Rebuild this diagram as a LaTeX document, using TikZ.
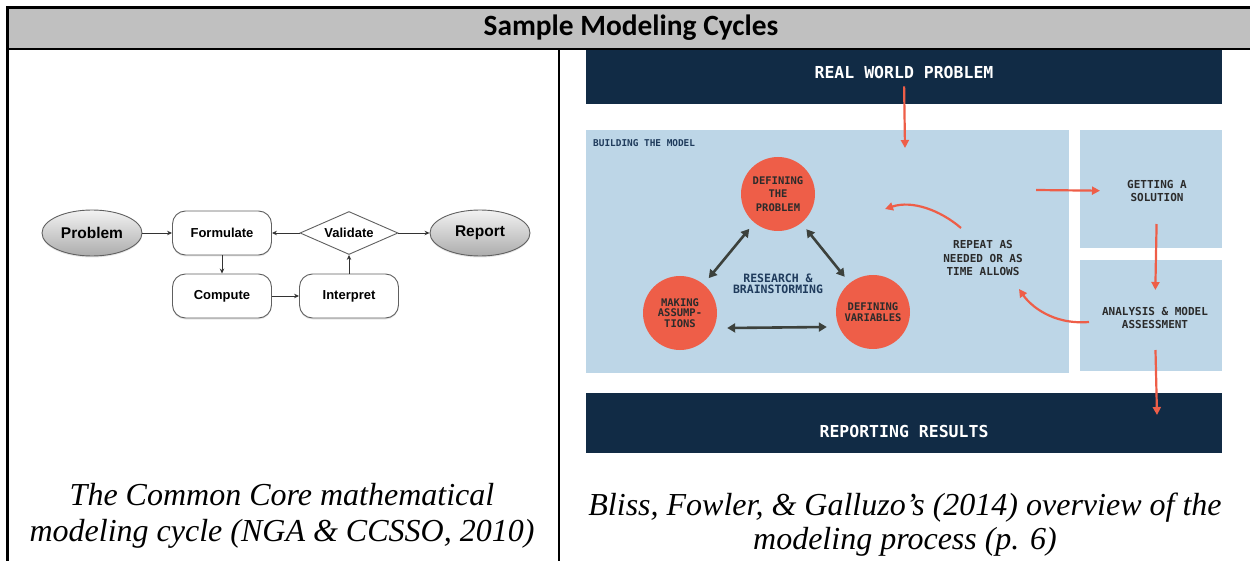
\documentclass[tikz,border=0pt]{standalone}
\usepackage{fontspec}
\setmainfont{Liberation Serif}
\newfontfamily\headfont{Carlito}
\newfontfamily\flowfont{Liberation Sans}
\newfontfamily\tagfont{DejaVu Sans Mono}
\usetikzlibrary{arrows.meta, shapes.geometric, shadows}

\definecolor{headgray}{HTML}{C0C0C0}
\definecolor{navy}{HTML}{112B45}
\definecolor{skyblue}{HTML}{BDD6E7}
\definecolor{coral}{HTML}{EE5E48}
\definecolor{ink}{HTML}{3C413C}
\definecolor{inkdark}{HTML}{2B2B2B}
\definecolor{navytext}{HTML}{1F3B5C}

\begin{document}
\begin{tikzpicture}[
  x=1pt, y=-1pt,
  every node/.style={inner sep=0pt},
  term/.style={ellipse, draw=gray!75!black, line width=0.9pt, top color=gray!10,
               bottom color=gray!65, minimum width=100, minimum height=46,
               drop shadow={opacity=0.2, shadow xshift=0pt, shadow yshift=-1.5pt},
               font=\flowfont\bfseries\fontsize{15.5}{17}\selectfont},
  stage/.style={rectangle, rounded corners=13pt, draw=gray!75!black, line width=0.9pt,
                fill=white, minimum width=99, minimum height=44,
                drop shadow={opacity=0.2, shadow xshift=0pt, shadow yshift=-1.5pt},
                font=\flowfont\bfseries\fontsize{13}{15}\selectfont},
  check/.style={diamond, aspect=2.3, draw=gray!75!black, line width=0.9pt, fill=white,
                minimum width=98, minimum height=43,
                font=\flowfont\bfseries\fontsize{13}{15}\selectfont},
  flow/.style={-{Stealth[length=5pt, width=4.5pt]}, draw=gray!40!black, line width=0.7pt},
  banner/.style={rectangle, fill=navy, anchor=north west},
  panel/.style={rectangle, fill=skyblue, anchor=north west},
  bannertext/.style={text=white, font=\tagfont\bfseries\fontsize{16.5}{18}\selectfont},
  topic/.style={circle, fill=coral, minimum size=74},
  topictext/.style={align=center, text=inkdark, font=\tagfont\bfseries\fontsize{10.5}{13.3}\selectfont},
  note/.style={align=center, text=inkdark, font=\tagfont\bfseries\fontsize{11}{13.3}\selectfont},
  twoway/.style={{Triangle[length=8pt, width=9pt]}-{Triangle[length=8pt, width=9pt]},
                 draw=ink, line width=2.6pt},
  redarrow/.style={-{Triangle[length=8pt, width=8pt]}, draw=coral, line width=2.2pt},
  caption/.style={align=center, font=\itshape\fontsize{32}{35.5}\selectfont},
]
\useasboundingbox (0,0) rectangle (1250,561);
\clip (0,0) rectangle (1250,561);

% table frame and header row
\fill[headgray] (7.5,7.5) rectangle (1250,49);
\draw[line width=2.5pt] (7.5,561) -- (7.5,7.5) -- (1250,7.5);
\draw[line width=2pt] (7.5,49) -- (1250,49);
\draw[line width=2pt] (559,49) -- (559,561);
\node[font=\headfont\bfseries\fontsize{29.4}{32}\selectfont] (title) at (631,28) {Sample Modeling Cycles};

% left cell: common core cycle
\node[term]  (problem)   at (92,233)  {Problem};
\node[stage] (formulate) at (222,233) {Formulate};
\node[check] (validate)  at (349,233) {Validate};
\node[term]  (report)    at (480,233) {Report};
\node[stage] (compute)   at (222,296) {Compute};
\node[stage] (interpret) at (349,296) {Interpret};

\draw[flow] (problem)   -- (formulate);
\draw[flow] (validate)  -- (formulate);
\draw[flow] (validate)  -- (report);
\draw[flow] (formulate) -- (compute);
\draw[flow] (compute)   -- (interpret);
\draw[flow] (interpret) -- (validate);

\node[caption] (leftcap) at (282,516) {The Common Core mathematical\\modeling cycle (NGA \& CCSSO, 2010)};

% right cell: building the model
\node[banner, minimum width=636, minimum height=54] (realbox) at (586,50) {};
\node[panel, minimum width=483, minimum height=243] (buildbox) at (586,130) {};
\node[panel, minimum width=142, minimum height=118] (solvebox) at (1080,130) {};
\node[panel, minimum width=142, minimum height=111] (assessbox) at (1080,260) {};
\node[banner, minimum width=636, minimum height=60] (reportbox) at (586,393) {};

\node[bannertext] (real) at (904,72) {REAL WORLD PROBLEM};
\node[bannertext] (results) at (904,431) {REPORTING RESULTS};
\node[anchor=west, text=navytext, font=\tagfont\bfseries\fontsize{9.4}{11}\selectfont] (buildlabel) at (593,143) {BUILDING THE MODEL};

\node[topic] (defprob) at (778,194) {};
\node[topic] (makeas)  at (680,313) {};
\node[topic] (defvar)  at (873,312) {};
\node[topictext] at (defprob) {DEFINING\\THE\\PROBLEM};
\node[topictext, font=\tagfont\bfseries\fontsize{10.5}{10.8}\selectfont] at (makeas) {MAKING\\ASSUMP-\\TIONS};
\node[topictext, font=\tagfont\bfseries\fontsize{10.5}{11}\selectfont] at (defvar) {DEFINING\\VARIABLES};
\node[align=center, text=navytext, font=\tagfont\bfseries\fontsize{11.5}{11}\selectfont] (research) at (778,284) {RESEARCH \&\\BRAINSTORMING};

\draw[twoway, shorten <=8, shorten >=8] (defprob) -- (makeas);
\draw[twoway, shorten <=8, shorten >=8] (defprob) -- (defvar);
\draw[twoway] ([shift={(10,15)}]makeas.east) -- ([shift={(-9,15)}]defvar.west);

\node[note] (repeat)   at (983,258)  {REPEAT AS\\NEEDED OR AS\\TIME ALLOWS};
\node[note] (getting)  at (1157,191) {GETTING A\\SOLUTION};
\node[note] (analysis) at (1155,318) {ANALYSIS \& MODEL\\ASSESSMENT};

\coordinate (intobuild) at (905,148);
\coordinate (fromloop)  at (1036,190);
\coordinate (backfrom)  at (961,228);
\coordinate (backto)    at (885,209);
\coordinate (outfrom)   at (1089,322);
\coordinate (outto)     at (1019,289);
\coordinate (toresults) at (1157,415);

\draw[redarrow, shorten <=8] (real.south) -- (intobuild);
\draw[redarrow, shorten >=27] (fromloop) -- (getting.west);
\draw[redarrow, shorten <=22, shorten >=17] (getting.south) -- (analysis.north);
\draw[redarrow, shorten <=21] (analysis.south) -- (toresults);
\draw[redarrow] (backfrom) .. controls (940,210) and (912,200) .. (backto);
\draw[redarrow] (outfrom) .. controls (1052,325) and (1030,305) .. (outto);

\node[caption, font=\itshape\fontsize{32}{34}\selectfont] (rightcap) at (905,525) {Bliss, Fowler, \& Galluzo’s (2014) overview of the\\modeling process (p. 6)};
\end{tikzpicture}
\end{document}
